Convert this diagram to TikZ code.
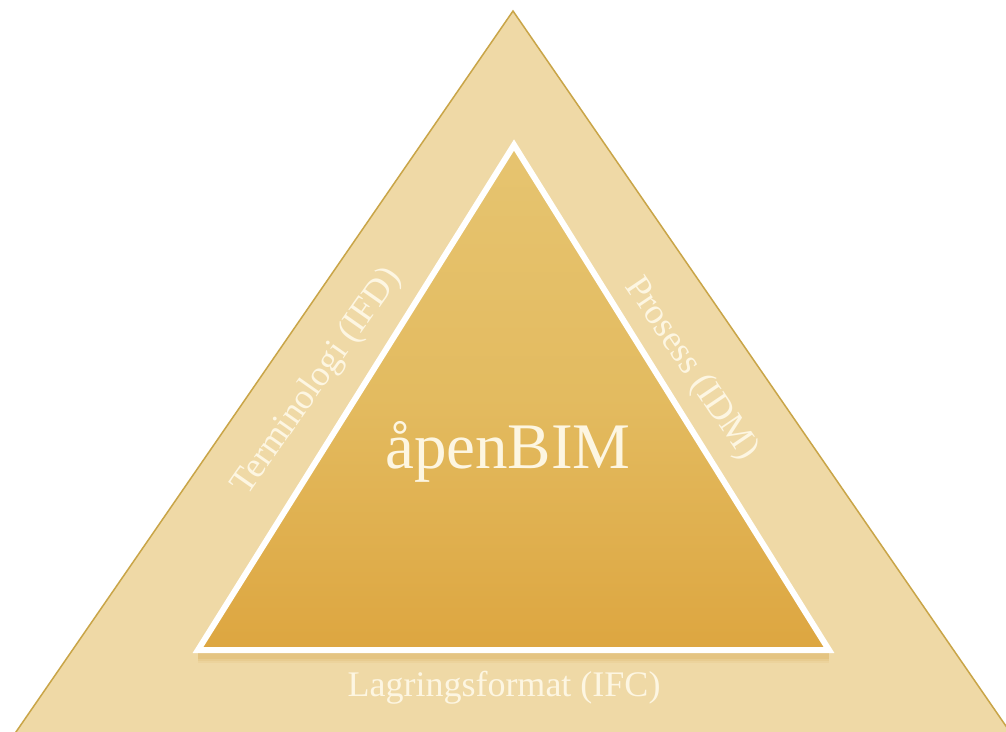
\documentclass[tikz,border=0pt]{standalone}
\usepackage{fontspec}
\setmainfont{Liberation Serif}
\definecolor{outerfill}{HTML}{EFD9A6}
\definecolor{outerline}{HTML}{C9A548}
\definecolor{innertop}{HTML}{E6C470}
\definecolor{innermid}{HTML}{E3BB60}
\definecolor{innerbot}{HTML}{DDA640}
\definecolor{shadowc}{HTML}{D9AE5A}
\definecolor{labelc}{HTML}{FDF6E2}
\tikzset{
  bandlabel/.style={text=labelc, font=\fontsize{36}{40}\selectfont, inner sep=0pt},
  mainlabel/.style={text=labelc, font=\fontsize{65}{70}\selectfont, inner sep=0pt}
}
\begin{document}
\begin{tikzpicture}[x=1pt,y=-1pt]
\useasboundingbox (0,0) rectangle (1006,731);
\clip (0,0) rectangle (1006,731);
\fill[white] (0,0) rectangle (1006,731);
\coordinate (OA) at (513,11);
\coordinate (OL) at (7,745);
\coordinate (OR) at (1019,745);
\coordinate (IA) at (514,145);
\coordinate (IL) at (198,650);
\coordinate (IR) at (829,650);
\fill[outerfill, draw=outerline, line width=1.5pt, line join=miter] (OA) -- (OL) -- (OR) -- cycle;
% soft shadow under inner base
\foreach \w/\o in {16/0.12,11/0.18,7/0.25}{
  \draw[shadowc, line width=\w pt, opacity=\o] ([yshift=-5]IL) -- ([yshift=-5]IR);
}
\shade[top color=innertop, bottom color=innerbot, middle color=innermid] (IA) -- (IL) -- (IR) -- cycle;
\draw[white, line width=6pt, line join=miter] (IA) -- (IL) -- (IR) -- cycle;
\node[mainlabel] (main) at (508,452) {åpenBIM};
\node[bandlabel] (bottom) at (504,688) {Lagringsformat (IFC)};
\node[bandlabel, rotate=55] (left) at (317,382) {Terminologi (IFD)};
\node[bandlabel, rotate=-56] (right) at (691,369) {Prosess (IDM)};
\end{tikzpicture}
\end{document}
